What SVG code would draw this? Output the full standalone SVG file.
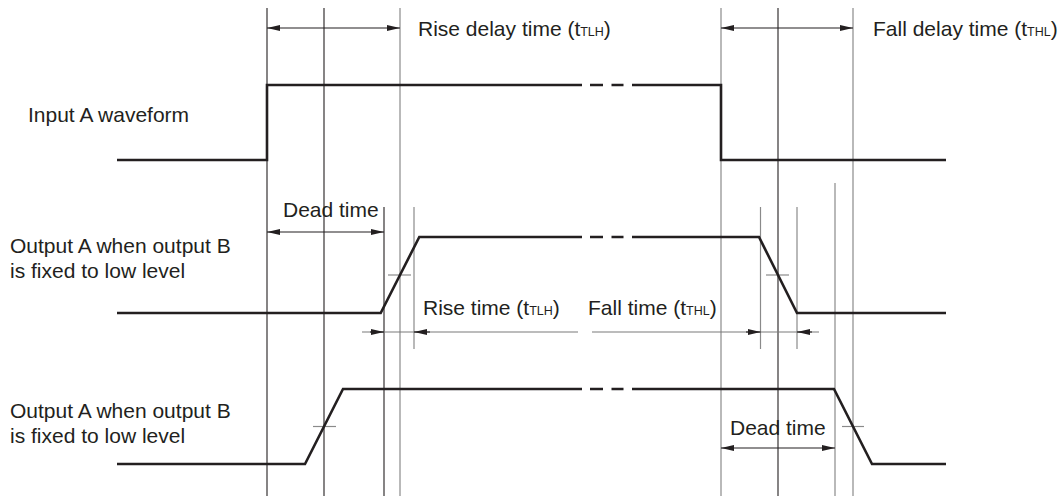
<svg xmlns="http://www.w3.org/2000/svg" width="1061" height="501" viewBox="0 0 1061 501">
<style>
text{font-family:"Liberation Sans",Arial,sans-serif;font-size:21px;fill:#231f20}
.sub{font-size:12.5px}
.wave{fill:none;stroke:#231f20;stroke-width:2.6;stroke-linejoin:miter}
.gd{stroke:#231f20;stroke-width:1.1;fill:none}
.gg{stroke:#8a8a8a;stroke-width:1.2;fill:none}
.dim{stroke:#231f20;stroke-width:1.1;fill:none;marker-start:url(#ah);marker-end:url(#ah)}
.dimg{stroke:#7a7a7a;stroke-width:1.2;fill:none}
.head{stroke:#231f20;stroke-width:1.1;fill:none;marker-end:url(#ah)}
</style>
<defs>
<marker id="ah" viewBox="0 0 13 6" refX="13" refY="3" markerWidth="13" markerHeight="6" markerUnits="userSpaceOnUse" orient="auto-start-reverse">
<path d="M0,0 L13,3 L0,6 Z" fill="#231f20"/>
</marker>
</defs>
<rect width="1061" height="501" fill="#ffffff"/>
<g id="guides">
<line class="gd" x1="267" y1="8" x2="267" y2="496"/>
<line class="gd" x1="324" y1="8" x2="324" y2="496"/>
<line class="gg" x1="400" y1="8" x2="400" y2="496"/>
<line class="gg" x1="721" y1="8" x2="721" y2="496"/>
<line class="gd" x1="778" y1="8" x2="778" y2="496"/>
<line class="gg" x1="853" y1="8" x2="853" y2="496"/>
<line class="gd" x1="384" y1="207" x2="384" y2="496"/>
<line class="gg" x1="414" y1="207" x2="414" y2="349"/>
<line class="gg" x1="760.5" y1="207" x2="760.5" y2="349"/>
<line class="gg" x1="797" y1="207" x2="797" y2="349"/>
<line class="gg" x1="835" y1="183" x2="835" y2="496"/>
<line class="gg" x1="388" y1="275" x2="411" y2="275"/>
<line class="gg" x1="766" y1="275" x2="789" y2="275"/>
<line class="gg" x1="313" y1="426.5" x2="336" y2="426.5"/>
<line class="gg" x1="842" y1="426.5" x2="864" y2="426.5"/>
</g>
<g id="input-a">
<text x="28" y="122">Input A waveform</text>
<path class="wave" d="M117,160 H267 V85 H582 M590,85 H603 M611.5,85 H623.5 M632,85 H721 V160 H946"/>
</g>
<g id="output-a-1">
<text x="10" y="253">Output A when output B</text>
<text x="10" y="278">is fixed to low level</text>
<path class="wave" d="M117,313 H380.7 L419.3,237 H582 M590,237 H603 M611.5,237 H623.5 M632,237 H759 L797,313 H946"/>
</g>
<g id="output-a-2">
<text x="10" y="418">Output A when output B</text>
<text x="10" y="443">is fixed to low level</text>
<path class="wave" d="M117,464 H305 L343,389 H582 M590,389 H603 M611.5,389 H623.5 M632,389 H834 L872,464 H946"/>
</g>
<g id="connectors">
<line class="dim" x1="267" y1="28" x2="400" y2="28"/>
<line class="dim" x1="721" y1="28" x2="853" y2="28"/>
<line class="dim" x1="267" y1="232" x2="384" y2="232"/>
<line class="dim" x1="721" y1="448" x2="835" y2="448"/>
<line class="dimg" x1="362" y1="332" x2="578" y2="332"/>
<line class="dimg" x1="592" y1="332" x2="819" y2="332"/>
<line class="head" x1="370" y1="332" x2="384" y2="332"/>
<line class="head" x1="430" y1="332" x2="414" y2="332"/>
<line class="head" x1="746" y1="332" x2="760.5" y2="332"/>
<line class="head" x1="812" y1="332" x2="797" y2="332"/>
</g>
<g id="labels">
<text x="418" y="36">Rise delay time (t<tspan class="sub">TLH</tspan>)</text>
<text x="873" y="36">Fall delay time (t<tspan class="sub">THL</tspan>)</text>
<text x="283" y="217">Dead time</text>
<text x="730" y="435">Dead time</text>
<text x="423" y="315">Rise time (t<tspan class="sub">TLH</tspan>)</text>
<text x="588" y="315">Fall time (t<tspan class="sub">THL</tspan>)</text>
</g>
</svg>
